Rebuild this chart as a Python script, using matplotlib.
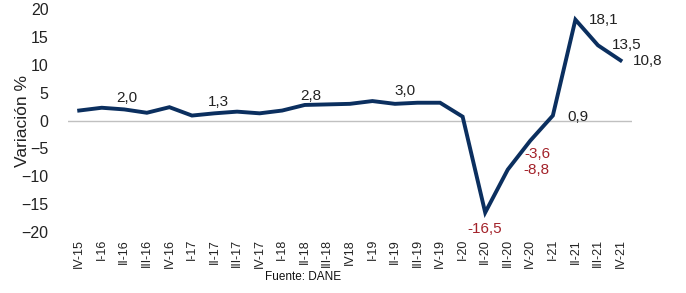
import matplotlib
matplotlib.use('Agg')
import matplotlib.pyplot as plt

# quarters and annual variation (%)
quarters = ['IV-15', 'I-16', 'II-16', 'III-16', 'IV-16', 'I-17', 'II-17', 'III-17', 'IV-17',
            'I-18', 'II-18', 'III-18', 'IV18', 'I-19', 'II-19', 'III-19', 'IV-19',
            'I-20', 'II-20', 'III-20', 'IV-20', 'I-21', 'II-21', 'III-21', 'IV-21']
variation = [1.8, 2.3, 2.0, 1.4, 2.4, 0.9, 1.3, 1.6, 1.3,
             1.8, 2.8, 2.9, 3.0, 3.5, 3.0, 3.2, 3.2,
             0.7, -16.5, -8.8, -3.6, 0.9, 18.1, 13.5, 10.8]

# which points get a label, and where (offset in pixels, alignment)
labels = {
    2: (3, 4, 'center', 'bottom'),
    6: (4, 4, 'center', 'bottom'),
    10: (6, 2, 'center', 'bottom'),
    14: (10, 6, 'center', 'bottom'),
    18: (-1, -9, 'center', 'top'),
    19: (16, 0, 'left', 'center'),
    20: (-6, -6, 'left', 'top'),
    21: (15, -1, 'left', 'center'),
    22: (13, 0, 'left', 'center'),
    23: (14, 0, 'left', 'center'),
    24: (12, -1, 'left', 'center'),
}

plt.rcParams['font.family'] = ['Liberation Sans', 'DejaVu Sans']

fig = plt.figure(figsize=(6.86, 2.93), dpi=100)
ax = fig.add_axes([0.099, 0.208, 0.822, 0.761])

x = list(range(len(quarters)))
ax.axhline(0, color='#c0c0c0', linewidth=1, zorder=1)
ax.plot(x, variation, color='#0b2f5f', linewidth=2.8, solid_joinstyle='miter', zorder=2)

for i, (dx, dy, ha, va) in labels.items():
    v = variation[i]
    color = '#a3222a' if v < 0 else '#222222'
    txt = f'{v:.1f}'.replace('.', ',')
    ax.annotate(txt, (i, v), xytext=(dx, dy), textcoords='offset pixels',
                ha=ha, va=va, fontsize=11, color=color)

ax.set_xlim(-0.5, len(quarters) - 0.5)
ax.set_ylim(-20, 20)
ax.set_yticks([-20, -15, -10, -5, 0, 5, 10, 15, 20])
ax.set_xticks(x)
ax.set_xticklabels(quarters, rotation=90, fontsize=9, color='#222222')
ax.tick_params(axis='y', labelsize=11.5, length=0, pad=14, labelcolor='#222222')
ax.tick_params(axis='x', length=0, pad=5)
ax.set_ylabel('Variación %', fontsize=12.5, labelpad=-6, color='#222222')

for s in ax.spines.values():
    s.set_visible(False)

fig.text(0.442, 0.055, 'Fuente: DANE', fontsize=8.5, ha='center', va='center', color='#111111')

fig.savefig('out.png', dpi=100)
